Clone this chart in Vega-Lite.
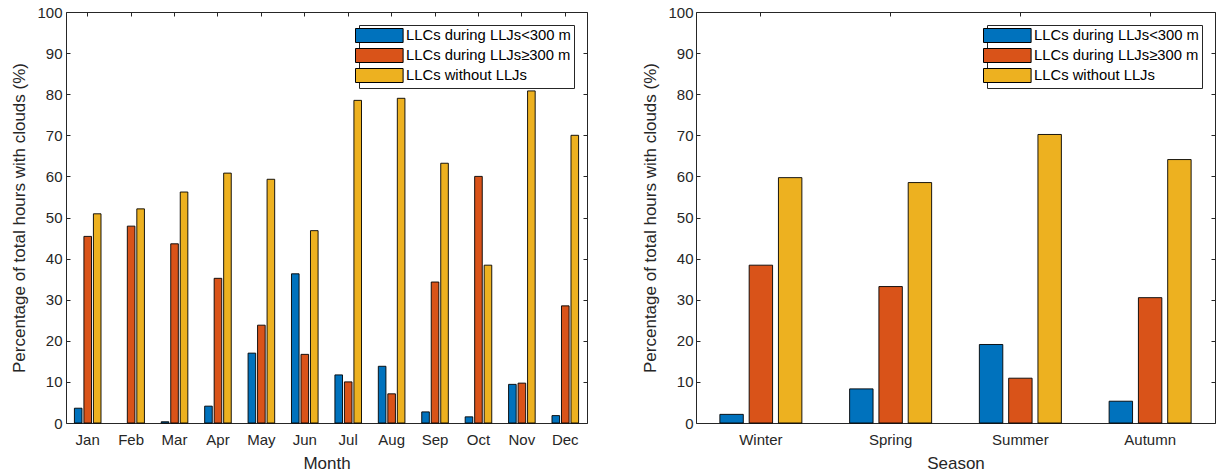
{
  "$schema": "https://vega.github.io/schema/vega-lite/v6.json",
  "background": "white",
  "padding": {"left": 10, "top": 4, "right": 6, "bottom": 0},
  "config": {
    "font": "Liberation Sans",
    "view": {"stroke": "#262626", "strokeWidth": 1},
    "axis": {
      "domain": false,
      "grid": false,
      "tickSize": -4,
      "tickColor": "#262626",
      "labelColor": "#262626",
      "labelFontSize": 15,
      "titleColor": "#262626",
      "titleFontSize": 17,
      "titleFontWeight": "normal",
      "labelFont": "Liberation Sans",
      "titleFont": "Liberation Sans"
    },
    "legend": {
      "orient": "top-right",
      "offset": 13,
      "title": null,
      "padding": 3,
      "fillColor": "white",
      "strokeColor": "#262626",
      "labelFont": "Liberation Sans",
      "labelFontSize": 14.8,
      "labelColor": "#000000",
      "labelLimit": 400,
      "labelOffset": 36,
      "rowPadding": 1,
      "symbolType": "M-1,-1L5.8,-1L5.8,1L-1,1Z",
      "symbolSize": 196,
      "symbolOffset": -7,
      "symbolStrokeColor": "#000000",
      "symbolStrokeWidth": 1,
      "symbolOpacity": 1
    }
  },
  "datasets": {
    "monthly": [
      {"month": "Jan", "series": "LLCs during LLJs<300 m", "pct": 3.6},
      {"month": "Jan", "series": "LLCs during LLJs≥300 m", "pct": 45.4},
      {"month": "Jan", "series": "LLCs without LLJs", "pct": 50.9},
      {"month": "Feb", "series": "LLCs during LLJs<300 m", "pct": null},
      {"month": "Feb", "series": "LLCs during LLJs≥300 m", "pct": 47.9},
      {"month": "Feb", "series": "LLCs without LLJs", "pct": 52.1},
      {"month": "Mar", "series": "LLCs during LLJs<300 m", "pct": 0.3},
      {"month": "Mar", "series": "LLCs during LLJs≥300 m", "pct": 43.6},
      {"month": "Mar", "series": "LLCs without LLJs", "pct": 56.2},
      {"month": "Apr", "series": "LLCs during LLJs<300 m", "pct": 4.1},
      {"month": "Apr", "series": "LLCs during LLJs≥300 m", "pct": 35.2},
      {"month": "Apr", "series": "LLCs without LLJs", "pct": 60.8},
      {"month": "May", "series": "LLCs during LLJs<300 m", "pct": 17.0},
      {"month": "May", "series": "LLCs during LLJs≥300 m", "pct": 23.8},
      {"month": "May", "series": "LLCs without LLJs", "pct": 59.3},
      {"month": "Jun", "series": "LLCs during LLJs<300 m", "pct": 36.3},
      {"month": "Jun", "series": "LLCs during LLJs≥300 m", "pct": 16.7},
      {"month": "Jun", "series": "LLCs without LLJs", "pct": 46.8},
      {"month": "Jul", "series": "LLCs during LLJs<300 m", "pct": 11.7},
      {"month": "Jul", "series": "LLCs during LLJs≥300 m", "pct": 10.0},
      {"month": "Jul", "series": "LLCs without LLJs", "pct": 78.5},
      {"month": "Aug", "series": "LLCs during LLJs<300 m", "pct": 13.8},
      {"month": "Aug", "series": "LLCs during LLJs≥300 m", "pct": 7.1},
      {"month": "Aug", "series": "LLCs without LLJs", "pct": 79.0},
      {"month": "Sep", "series": "LLCs during LLJs<300 m", "pct": 2.7},
      {"month": "Sep", "series": "LLCs during LLJs≥300 m", "pct": 34.3},
      {"month": "Sep", "series": "LLCs without LLJs", "pct": 63.2},
      {"month": "Oct", "series": "LLCs during LLJs<300 m", "pct": 1.5},
      {"month": "Oct", "series": "LLCs during LLJs≥300 m", "pct": 60.0},
      {"month": "Oct", "series": "LLCs without LLJs", "pct": 38.4},
      {"month": "Nov", "series": "LLCs during LLJs<300 m", "pct": 9.4},
      {"month": "Nov", "series": "LLCs during LLJs≥300 m", "pct": 9.7},
      {"month": "Nov", "series": "LLCs without LLJs", "pct": 80.8},
      {"month": "Dec", "series": "LLCs during LLJs<300 m", "pct": 1.8},
      {"month": "Dec", "series": "LLCs during LLJs≥300 m", "pct": 28.5},
      {"month": "Dec", "series": "LLCs without LLJs", "pct": 70.0}
    ],
    "seasonal": [
      {"season": "Winter", "series": "LLCs during LLJs<300 m", "pct": 2.1},
      {"season": "Winter", "series": "LLCs during LLJs≥300 m", "pct": 38.4},
      {"season": "Winter", "series": "LLCs without LLJs", "pct": 59.7},
      {"season": "Spring", "series": "LLCs during LLJs<300 m", "pct": 8.3},
      {"season": "Spring", "series": "LLCs during LLJs≥300 m", "pct": 33.2},
      {"season": "Spring", "series": "LLCs without LLJs", "pct": 58.5},
      {"season": "Summer", "series": "LLCs during LLJs<300 m", "pct": 19.1},
      {"season": "Summer", "series": "LLCs during LLJs≥300 m", "pct": 10.9},
      {"season": "Summer", "series": "LLCs without LLJs", "pct": 70.2},
      {"season": "Autumn", "series": "LLCs during LLJs<300 m", "pct": 5.3},
      {"season": "Autumn", "series": "LLCs during LLJs≥300 m", "pct": 30.5},
      {"season": "Autumn", "series": "LLCs without LLJs", "pct": 64.1}
    ]
  },
  "spacing": 53,
  "resolve": {
    "scale": {"color": "independent", "x": "independent", "xOffset": "independent", "y": "independent"},
    "legend": {"color": "independent"}
  },
  "hconcat": [
    {
      "width": 521,
      "height": 411,
      "data": {"name": "monthly"},
      "resolve": {"axis": {"x": "independent", "y": "independent"}},
      "layer": [
        {
          "mark": {"type": "bar", "stroke": "#000000", "strokeWidth": 0.9},
          "encoding": {
            "x": {
              "field": "month", "type": "nominal", "sort": null,
              "scale": {"paddingInner": 0, "paddingOuter": 0},
              "axis": {"orient": "bottom", "labelAngle": 0, "labelPadding": 13, "title": "Month", "titlePadding": 8}
            },
            "xOffset": {
              "field": "series", "type": "nominal", "sort": null,
              "scale": {"paddingInner": 0.2, "paddingOuter": 0.885}
            },
            "y": {
              "field": "pct", "type": "quantitative",
              "scale": {"domain": [0, 100], "nice": false},
              "axis": {"orient": "left", "values": [0, 10, 20, 30, 40, 50, 60, 70, 80, 90, 100], "labelPadding": 8, "title": "Percentage of total hours with clouds (%)", "titlePadding": 8}
            },
            "color": {
              "field": "series", "type": "nominal", "sort": null,
              "scale": {
                "domain": ["LLCs during LLJs<300 m", "LLCs during LLJs≥300 m", "LLCs without LLJs"],
                "range": ["#0072BD", "#D95319", "#EDB120"]
              },
              "legend": {}
            }
          }
        },
        {
          "mark": {"type": "bar", "opacity": 0},
          "encoding": {
            "x": {
              "field": "month", "type": "nominal", "sort": null,
              "axis": {"orient": "top", "labels": false, "title": null}
            },
            "xOffset": {"field": "series", "type": "nominal", "sort": null},
            "y": {
              "field": "pct", "type": "quantitative",
              "axis": {"orient": "right", "labels": false, "title": null, "values": [0, 10, 20, 30, 40, 50, 60, 70, 80, 90, 100]}
            }
          }
        }
      ]
    },
    {
      "width": 519,
      "height": 411,
      "data": {"name": "seasonal"},
      "resolve": {"axis": {"x": "independent", "y": "independent"}},
      "layer": [
        {
          "mark": {"type": "bar", "stroke": "#000000", "strokeWidth": 0.9},
          "encoding": {
            "x": {
              "field": "season", "type": "nominal", "sort": null,
              "scale": {"paddingInner": 0, "paddingOuter": 0},
              "axis": {"orient": "bottom", "labelAngle": 0, "labelPadding": 13, "title": "Season", "titlePadding": 8}
            },
            "xOffset": {
              "field": "series", "type": "nominal", "sort": null,
              "scale": {"paddingInner": 0.2, "paddingOuter": 0.815}
            },
            "y": {
              "field": "pct", "type": "quantitative",
              "scale": {"domain": [0, 100], "nice": false},
              "axis": {"orient": "left", "values": [0, 10, 20, 30, 40, 50, 60, 70, 80, 90, 100], "labelPadding": 7, "title": "Percentage of total hours with clouds (%)", "titlePadding": 8}
            },
            "color": {
              "field": "series", "type": "nominal", "sort": null,
              "scale": {
                "domain": ["LLCs during LLJs<300 m", "LLCs during LLJs≥300 m", "LLCs without LLJs"],
                "range": ["#0072BD", "#D95319", "#EDB120"]
              },
              "legend": {}
            }
          }
        },
        {
          "mark": {"type": "bar", "opacity": 0},
          "encoding": {
            "x": {
              "field": "season", "type": "nominal", "sort": null,
              "axis": {"orient": "top", "labels": false, "title": null}
            },
            "xOffset": {"field": "series", "type": "nominal", "sort": null},
            "y": {
              "field": "pct", "type": "quantitative",
              "axis": {"orient": "right", "labels": false, "title": null, "values": [0, 10, 20, 30, 40, 50, 60, 70, 80, 90, 100]}
            }
          }
        }
      ]
    }
  ]
}
